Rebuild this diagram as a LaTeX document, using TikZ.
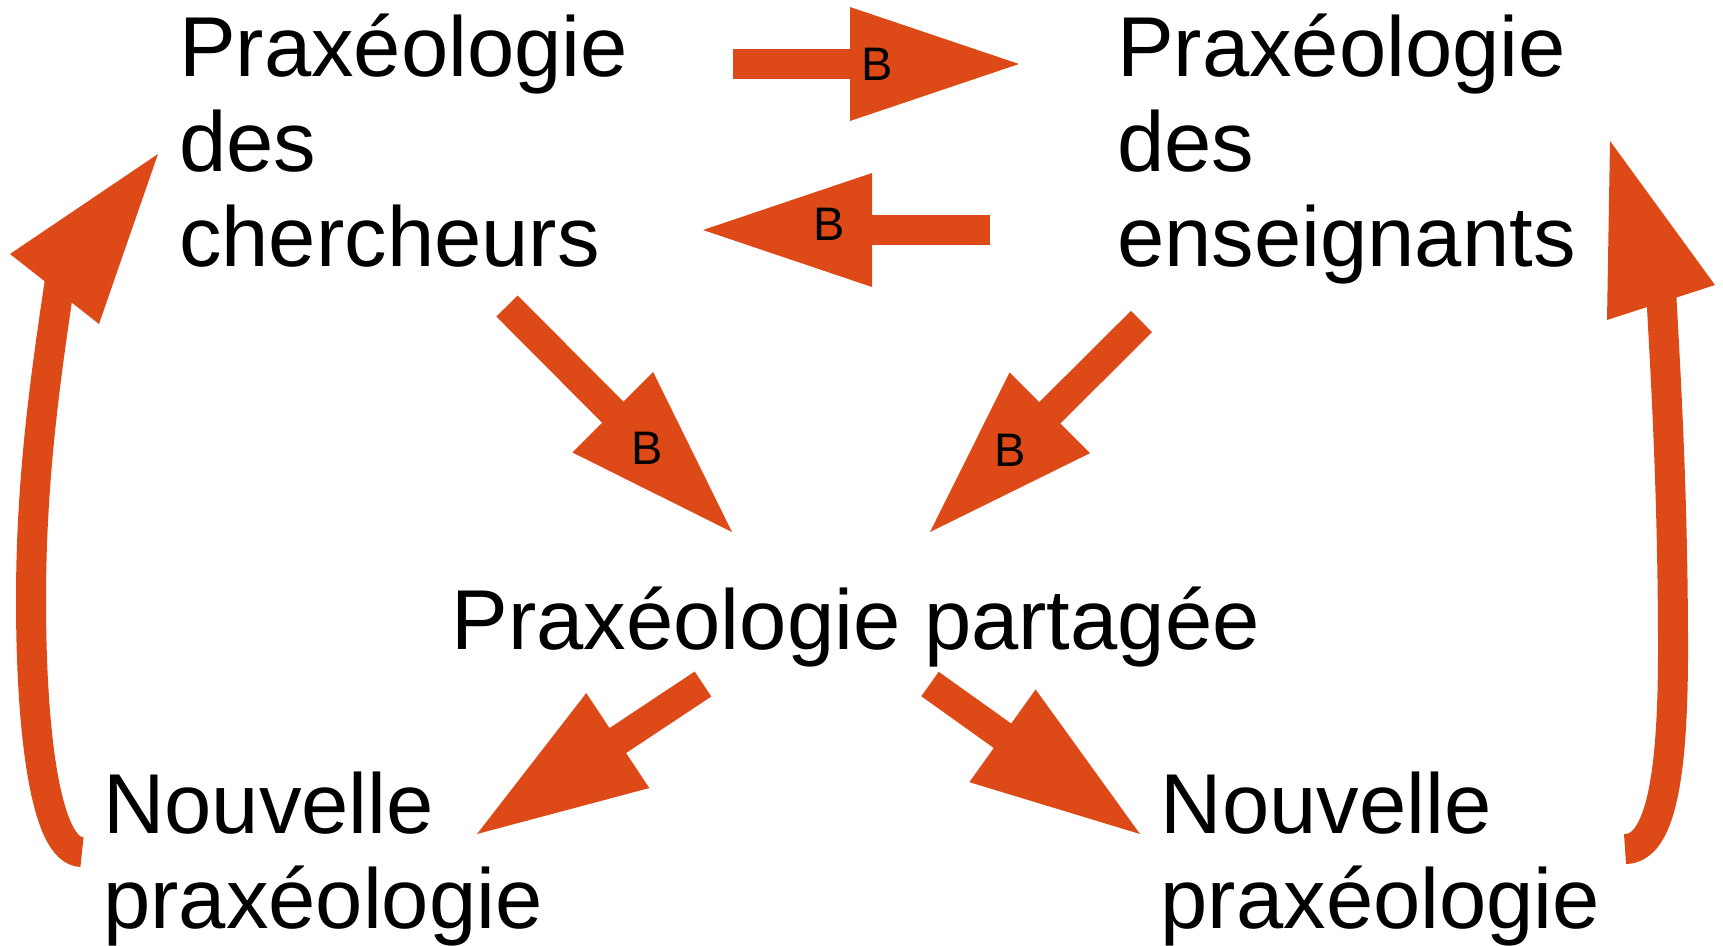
\documentclass[tikz,border=0pt]{standalone}
\usepackage{fontspec}
\setmainfont{Liberation Sans}
\usetikzlibrary{calc}
\definecolor{arrowred}{RGB}{221,74,24}
\tikzset{
  shaft/.style={draw=arrowred, line width=30pt},
  headfill/.style={fill=arrowred},
  bigtext/.style={font=\fontsize{85}{95}\selectfont, inner sep=0pt, anchor=base west},
  blabel/.style={font=\fontsize{47}{52}\selectfont, inner sep=0pt, text=black},
}
\newcommand\blockarrow[2]{%
  \coordinate (hb) at ($(#2)!169pt!(#1)$);
  \draw[shaft] (#1) -- ($(hb)!8pt!(#2)$);
  \fill[headfill] (#2) -- ($(hb)!57pt!90:(#2)$) -- ($(hb)!57pt!-90:(#2)$) -- cycle;}
\begin{document}
\begin{tikzpicture}[x=1pt,y=-1pt]
\useasboundingbox (0,0) rectangle (1723,945);

% text blocks
\node[bigtext] (chercheurs) at (179,76) {\begin{tabular}[t]{@{}l@{}}Praxéologie\\des\\chercheurs\end{tabular}};
\node[bigtext] (enseignants) at (1117,76) {\begin{tabular}[t]{@{}l@{}}Praxéologie\\des\\enseignants\end{tabular}};
\node[bigtext] (partagee) at (451.5,649) {Praxéologie partagée};
\node[bigtext] (nouvL) at (103,833) {\begin{tabular}[t]{@{}l@{}}Nouvelle\\praxéologie\end{tabular}};
\node[bigtext] (nouvR) at (1160.5,833) {\begin{tabular}[t]{@{}l@{}}Nouvelle\\praxéologie\end{tabular}};

% straight block arrows
\coordinate (t1s) at (733,64);    \coordinate (t1e) at (1019,64);
\coordinate (t2s) at (990,230);   \coordinate (t2e) at (703,230);
\coordinate (d1s) at (507,306);   \coordinate (d1e) at (732,532);
\coordinate (d2s) at (1141.5,321.5); \coordinate (d2e) at (930,532);
\coordinate (b1s) at (703,684);   \coordinate (b1e) at (477,834);
\coordinate (b2s) at (930,684);   \coordinate (b2e) at (1140,834);
\blockarrow{t1s}{t1e}
\blockarrow{t2s}{t2e}
\blockarrow{d1s}{d1e}
\blockarrow{d2s}{d2e}
\blockarrow{b1s}{b1e}
\blockarrow{b2s}{b2e}

% curved arrows
\coordinate (cls) at (82,852);   \coordinate (cle) at (60,280);
\draw[shaft] (cls) .. controls (45,852) and (31,730) .. (31,600)
  .. controls (31,480) and (45,380) .. (cle);
\fill[headfill] (158,154) -- (10,254) -- (99,324) -- cycle;

\coordinate (crs) at (1625,849); \coordinate (cre) at (1661,290);
\draw[shaft] (crs) .. controls (1662,849) and (1673,770) .. (1673,650)
  .. controls (1673,500) and (1666,380) .. (cre);
\fill[headfill] (1610,141) -- (1607,320) -- (1715,285) -- cycle;

% labels
\node[blabel] (lb1) at (877,64) {B};
\node[blabel] (lb2) at (829,224) {B};
\node[blabel] (lb3) at (647,448) {B};
\node[blabel] (lb4) at (1010,450) {B};
\end{tikzpicture}
\end{document}
